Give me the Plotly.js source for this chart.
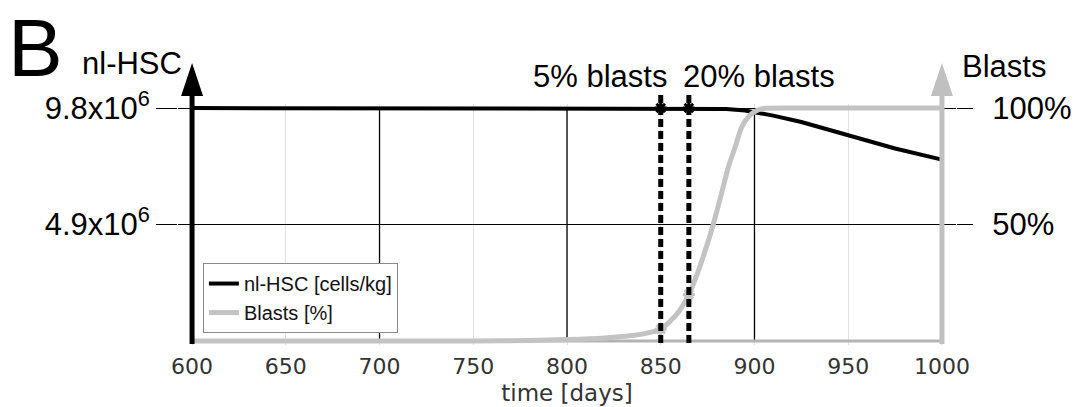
<!DOCTYPE html>
<html>
<head>
<meta charset="utf-8">
<script src="https://cdn.plot.ly/plotly-3.0.1.min.js"></script>
<style>html,body{margin:0;padding:0;background:#fff;}#chart{width:1080px;height:407px;}</style>
</head>
<body>
<div id="chart"></div>
<script>
// ---- data ----
var hscDays = [600, 700, 800, 850, 865, 875, 885, 895, 900, 910, 925, 950, 975, 1000];
var hscCells = [9.8e6, 9.8e6, 9.8e6, 9.8e6, 9.8e6, 9.79e6, 9.76e6, 9.7e6, 9.64e6, 9.48e6, 9.21e6, 8.66e6, 8.1e6, 7.63e6];

var blastDays = [600, 700, 750, 780, 800, 820, 835, 845, 850, 855, 860, 865, 870, 875, 878, 882, 886, 890, 893, 897, 901, 905, 920, 1000];
var blastPct  = [0, 0, 0, 0.2, 0.6, 1.3, 2.3, 3.8, 5, 8.5, 13, 20, 30, 42, 50, 62, 74.5, 84, 91.5, 96.5, 98.8, 99.8, 100, 100];

var thresholdDays = [850, 865];
var thresholdPct = [5, 20];
var thresholdLabels = ['5% blasts', '20% blasts'];
var thresholdHsc = [9.8e6, 9.8e6];

var xTicks = [600, 650, 700, 750, 800, 850, 900, 950, 1000];
var darkGridDays = [700, 800, 900];
var yTickVals = [4.9e6, 9.8e6];
var yTickText = ['4.9x10<sup>6</sup>', '9.8x10<sup>6</sup>'];
var y2TickVals = [50, 100];
var y2TickText = ['50%', '100%'];

// ---- layout constants ----
var xMin = 600, xMax = 1000, xPad = 7.5;
var yMax = 9.8e6, yPad = 0.17e6;
var pMax = 100, pPad = yPad / yMax * 100;
var plotW = 778; // px
var pxPerDay = plotW / (xMax - xMin + 2 * xPad);
var headHalf = 11 / pxPerDay;

var BLACK = '#000000', GRAY = '#c3c3c3';
var SANS = 'Liberation Sans, Arial, sans-serif';
var DEJA = 'DejaVu Sans, sans-serif';

var traces = [
  {x: hscDays, y: hscCells, type: 'scatter', mode: 'lines', name: 'nl-HSC [cells/kg]',
   line: {color: BLACK, width: 4}, yaxis: 'y'},
  {x: blastDays, y: blastPct, type: 'scatter', mode: 'lines', name: 'Blasts [%]',
   line: {color: GRAY, width: 5, shape: 'spline', smoothing: 0.6}, yaxis: 'y2'},
  {x: thresholdDays, y: thresholdHsc, type: 'scatter', mode: 'markers', showlegend: false,
   marker: {symbol: 'asterisk-open', size: 10, color: BLACK, line: {color: BLACK, width: 3}}, yaxis: 'y', cliponaxis: false},
  {x: thresholdDays, y: thresholdPct, type: 'scatter', mode: 'markers', showlegend: false,
   marker: {symbol: 'asterisk-open', size: 10, color: GRAY, line: {color: GRAY, width: 3}}, yaxis: 'y2', cliponaxis: false}
];

var shapes = [];
darkGridDays.forEach(function (d) {
  shapes.push({type: 'line', xref: 'x', yref: 'y', x0: d, x1: d, y0: 0, y1: yMax,
    line: {color: BLACK, width: 1.3}, layer: 'between'});
});
// bottom axis line
shapes.push({type: 'line', xref: 'x', yref: 'y', x0: xMin, x1: xMax, y0: 0, y1: 0,
  line: {color: '#b3b3b3', width: 3}, layer: 'between'});
// dashed threshold lines
thresholdDays.forEach(function (d) {
  shapes.push({type: 'line', xref: 'x', yref: 'paper', x0: d, x1: d, y0: 0.008, y1: 1.054,
    line: {color: BLACK, width: 5, dash: '8px,4px'}, layer: 'above'});
});
// left axis with arrow
shapes.push({type: 'line', xref: 'x', yref: 'paper', x0: xMin, x1: xMin, y0: 0.004, y1: 1.04,
  line: {color: BLACK, width: 5}, layer: 'above'});
shapes.push({type: 'path', xref: 'x', yref: 'paper',
  path: 'M' + (xMin - headHalf) + ',1.033 L' + xMin + ',1.170 L' + (xMin + headHalf) + ',1.033 Z',
  fillcolor: BLACK, line: {width: 0}, layer: 'above'});
// right axis with arrow
shapes.push({type: 'line', xref: 'x', yref: 'paper', x0: xMax, x1: xMax, y0: 0.004, y1: 1.04,
  line: {color: '#c0c0c0', width: 5}, layer: 'above'});
shapes.push({type: 'path', xref: 'x', yref: 'paper',
  path: 'M' + (xMax - headHalf) + ',1.033 L' + xMax + ',1.170 L' + (xMax + headHalf) + ',1.033 Z',
  fillcolor: '#c0c0c0', line: {width: 0}, layer: 'above'});

var annotations = [
  {text: 'B', xref: 'paper', yref: 'paper', x: -0.183, y: 1.43, showarrow: false,
   xanchor: 'center', yanchor: 'top', font: {family: SANS, size: 82, color: BLACK}},
  {text: 'nl-HSC', xref: 'paper', yref: 'paper', x: -0.059, y: 1.166, showarrow: false,
   xanchor: 'center', yanchor: 'middle', font: {family: SANS, size: 31, color: BLACK}},
  {text: 'Blasts', xref: 'paper', yref: 'paper', x: 1.0614, y: 1.155, showarrow: false,
   xanchor: 'center', yanchor: 'middle', font: {family: SANS, size: 31, color: BLACK}},
  {text: thresholdLabels[0], xref: 'paper', yref: 'paper', x: 0.5428, y: 1.113, showarrow: false,
   xanchor: 'center', yanchor: 'middle', font: {family: SANS, size: 31, color: BLACK}},
  {text: thresholdLabels[1], xref: 'paper', yref: 'paper', x: 0.747, y: 1.113, showarrow: false,
   xanchor: 'center', yanchor: 'middle', font: {family: SANS, size: 31, color: BLACK}}
];

var layout = {
  width: 1080, height: 407,
  margin: {l: 178, r: 124, t: 104, b: 62},
  paper_bgcolor: '#ffffff', plot_bgcolor: '#ffffff',
  showlegend: true,
  legend: {x: 0.032, y: 0.34, xanchor: 'left', yanchor: 'top', bgcolor: '#ffffff',
    bordercolor: '#8a8a8a', borderwidth: 1, font: {family: SANS, size: 20, color: '#111'},
    tracegroupgap: 0, itemwidth: 30},
  xaxis: {range: [xMin - xPad, xMax + xPad], tickvals: xTicks, ticktext: xTicks.map(String),
    showgrid: true, gridcolor: '#e2e2e2', gridwidth: 1, zeroline: false, showline: false,
    ticks: '', ticklabelstandoff: 6, tickfont: {family: DEJA, size: 22, color: '#333'},
    title: {text: 'time [days]', font: {family: DEJA, size: 23, color: '#333'}, standoff: 6}},
  yaxis: {range: [-yPad, yMax + yPad], tickvals: yTickVals, ticktext: yTickText,
    showgrid: true, gridcolor: BLACK, gridwidth: 1, zeroline: false, showline: false,
    ticks: 'outside', ticklen: 21, tickwidth: 1, tickcolor: BLACK,
    tickfont: {family: SANS, size: 31, color: BLACK}},
  yaxis2: {range: [-pPad, pMax + pPad], overlaying: 'y', side: 'right', tickvals: y2TickVals, ticktext: y2TickText,
    showgrid: false, zeroline: false, showline: false,
    ticks: 'outside', ticklen: 16, tickwidth: 1, tickcolor: BLACK, ticklabelstandoff: 13,
    tickfont: {family: SANS, size: 31, color: BLACK}},
  shapes: shapes,
  annotations: annotations
};

Plotly.newPlot('chart', traces, layout, {staticPlot: true, displayModeBar: false});
</script>
</body>
</html>
